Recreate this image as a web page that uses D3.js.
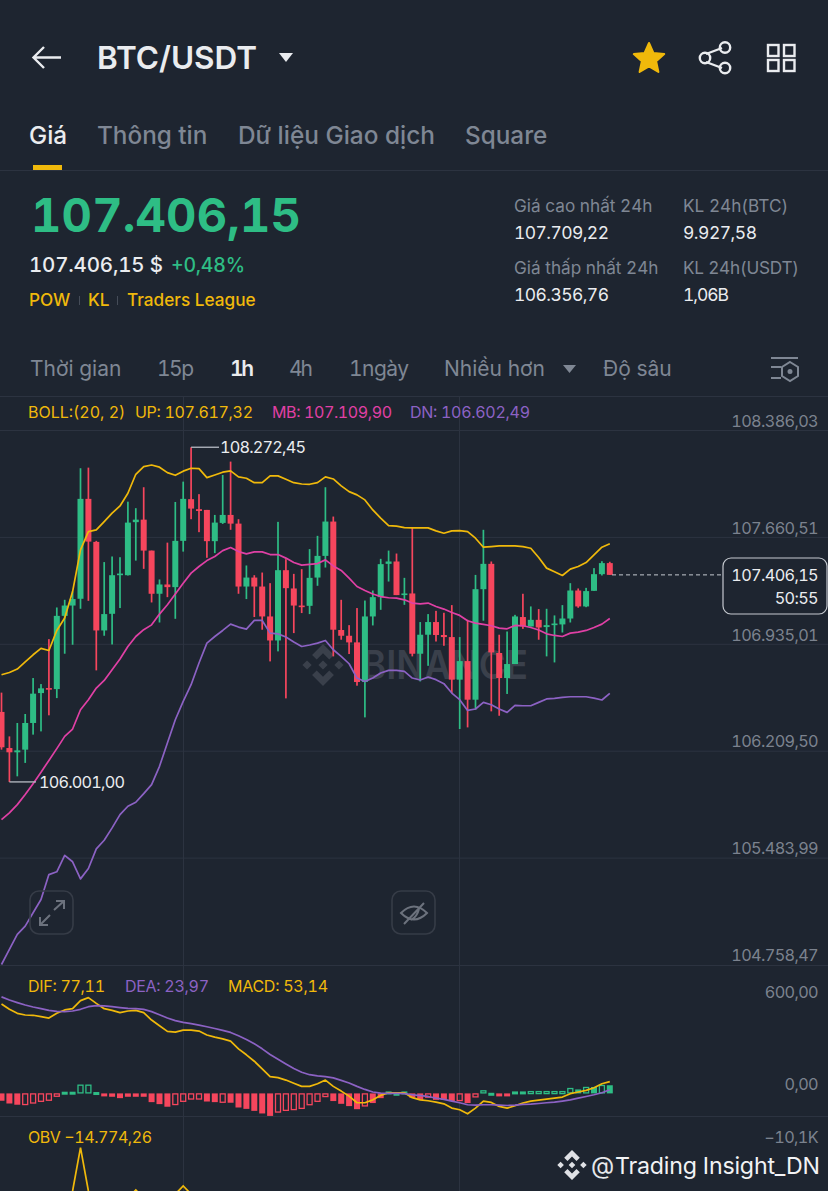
<!DOCTYPE html>
<html>
<head>
<meta charset="utf-8">
<script src="https://cdnjs.cloudflare.com/ajax/libs/d3/7.8.5/d3.min.js"></script>
<style>
html, body { margin: 0; padding: 0; background: #1e2530; }
svg { display: block; font-family: Inter, Roboto, sans-serif; font-variant-numeric: tabular-nums; }
</style>
</head>
<body>
<script>
// candles, one entry per hour, oldest first
var opens = [106476,106231,106202,106220,106401,106604,106638,106631,107128,107198,107244,107922,107630,107029,107142,107404,107404,107764,107781,107571,107278,107341,107323,107637,107920,107852,107847,107635,107759,107813,107754,107327,107388,107327,107124,106961,107438,107314,107198,107196,107388,107535,107768,107032,106993,106948,106679,107124,107255,107481,107497,107269,107280,106871,107000,107086,106998,106984,106695,106821,106559,107309,107481,106876,106706,106801,107120,107056,107101,107052,107065,107070,107110,107300,107192,107298,107411,107486];
var closes = [106236,106202,106215,106401,106600,106636,106627,107128,107198,107242,107922,107632,107029,107140,107404,107415,107761,107781,107571,107278,107341,107323,107637,107922,107856,107840,107635,107761,107813,107754,107327,107388,107327,107124,106961,107438,107316,107198,107187,107386,107535,107768,107034,106993,106948,106679,107124,107255,107479,107497,107269,107280,106871,107000,107086,106998,106984,106695,106821,106559,107309,107481,106880,106706,106801,107124,107056,107101,107049,107065,107076,107110,107300,107192,107296,107411,107486,107406.15];
var highs = [106607,106310,106401,106462,106706,106665,106970,107185,107237,107293,108130,108134,107637,107493,107531,107526,107903,107859,108001,107571,107375,107625,107901,108039,108272.45,107954,107847,107813,108084,108175,107784,107470,107404,107422,107350,107766,107513,107413,107445,107581,107671,108001,107802,107237,107065,107181,107232,107300,107515,107571,107551,107386,107727,107086,107140,107162,107149,107201,106984,107101,107406,107712,107497,107000,107022,107135,107278,107192,107174,107176,107131,107201,107350,107314,107318,107452,107499,107495];
var lows = [106220,106001,106039,106130,106322,106344,106453,106570,106871,106932,107176,107230,106758,106993,106934,107181,107402,107503,107447,107219,107083,107255,107108,107564,107784,107696,107522,107554,107752,107712,107278,107242,107120,107034,106819,106887,106568,107011,107147,107140,107332,107456,106853,106966,106869,106654,106439,107063,107169,107361,107269,107203,106853,106683,106789,106954,106925,106604,106360,106371,106491,107095,106480,106450,106598,106801,107040,107056,106966,106853,106812,107015,107083,107183,107187,107298,107402,107406];

// bollinger bands
var bollUp = [106728,106744,106767,106815,106864,106907,106893,107029,107113,107293,107576,107700,107712,107768,107825,107874,107960,108089,108141,108152,108137,108100,108082,108110,108130,108127,108066,108084,108103,108112,108071,108062,108032,108032,108078,108078,108055,108032,108023,108021,108032,108071,108057,108010,107971,107949,107915,107847,107791,107741,107737,107727,107725,107725,107725,107705,107689,107705,107707,107700,107655,107594,107598,107603,107603,107603,107598,107587,107524,107452,107427,107402,107445,107463,107490,107542,107594,107617.32];
var bollMid = [105745,105791,105847,105915,105989,106066,106147,106227,106310,106360,106491,106559,106638,106690,106762,106835,106920,106988,107034,107067,107140,107203,107276,107350,107418,107463,107503,107531,107571,107592,107564,107549,107562,107562,107544,107544,107520,107490,107472,107478,107483,107508,107467,107436,107384,107327,107300,107276,107259,107251,107248,107237,107215,107210,107215,107192,107174,107151,107131,107095,107079,107070,107061,107045,107040,107063,107061,107049,107032,107006,106995,106988,107011,107018,107029,107049,107072,107109.9];
var bollDn = [104762,104864,104966,105022,105113,105203,105372,105391,105503,105459,105343,105413,105547,105605,105689,105779,105836,105863,105922,105983,106107,106265,106423,106548,106661,106808,106943,106988,107029,107072,107052,107038,107097,107097,107011,107006,106984,106950,106920,106930,106943,106961,106898,106853,106803,106706,106683,106706,106740,106758,106758,106751,106706,106693,106713,106695,106668,106604,106559,106486,106496,106541,106525,106496,106473,106520,106518,106518,106541,106564,106568,106575,106579,106579,106579,106570,106557,106602.49];

// macd pane
var dif = [584,549,523,512,510,501,492,523,545,553,606,625,588,553,542,527,538,542,527,479,442,405,400,413,413,407,381,367,356,341,291,252,210,160,109,103,87,66,46,46,63,87,46,15,-18,-61,-61,-42,-13,4,4,4,-28,-42,-48,-57,-68,-96,-107,-133,-96,-50,-59,-85,-96,-81,-63,-50,-44,-37,-31,-24,-2,9,20,37,63,77.11];
var dea = [630,610,593,577,564,553,542,536,534,538,549,566,573,571,566,560,555,553,549,534,514,492,475,464,455,446,435,424,411,398,376,352,324,291,254,223,192,162,138,122,114,109,101,85,68,46,26,9,2,0,0,-2,-9,-15,-20,-31,-39,-50,-61,-74,-77,-74,-74,-77,-79,-77,-72,-70,-66,-61,-57,-50,-42,-31,-20,-9,4,23.97];
var hist = [-48,-66,-74,-76,-66,-55,-48,-22,11,11,57,57,9,-18,-22,-31,-22,-22,-22,-57,-70,-87,-76,-55,-40,-40,-53,-57,-61,-61,-92,-101,-114,-131,-147,-125,-114,-109,-101,-77,-55,-24,-50,-68,-83,-103,-85,-63,-31,13,4,13,-28,-42,-28,-42,-42,-50,-50,-63,-26,20,4,-9,-15,13,13,15,15,15,15,15,35,26,42,42,55,53.14];
var histHollow = [3,4,5,6,7,10,11,22,23,24,25,28,35,36,37,38,39,40,41,46,54,58,60,61,67,68,69,70,71,72,74,76];

// obv, only the part that reaches into the picture
var obvIndex = [8,9,10,11,12,16,17,18,22,23,24];
var obvValues = [-10900,-10615,-10114,-10615,-10900,-10700,-10602,-10700,-10650,-10557,-10650];

var priceTicks = [108386.03,107660.51,106935.01,106209.50,105483.99,104758.47];
var macdTicks = [600,0];
var obvTicks = [-10100,-10800];

var bg = "#1e2530", grid = "#2c3340", greyText = "#7f8794", axisText = "#7b828e", white = "#eaecef";
var green = "#2ebd85", red = "#f6465d", yellow = "#f0b90b", pink = "#e040a5", purple = "#8c62c4";

var width = 828, height = 1191;
var locale = d3.formatLocale({decimal: ",", thousands: ".", grouping: [3], currency: ["", ""]});
var fmt = locale.format(",.2f");

var svg = d3.select("body").append("svg")
    .attr("width", width)
    .attr("height", height);

svg.append("rect").attr("width", width).attr("height", height).attr("fill", bg);

var x = d3.scaleLinear().domain([0, 77]).range([1.5, 609.8]);
var y = d3.scaleLinear().domain([104758.47, 108386.03]).range([965, 430.5]);
var yMacd = d3.scaleLinear().domain([0, 600]).range([1093.4, 1001.5]);
var yObv = d3.scaleLinear().domain([-10800, -10100]).range([1207, 1146.5]);

function label(s, px, py, size, color, weight, anchor) {
  return svg.append("text")
      .attr("x", px).attr("y", py)
      .attr("dy", ".35em")
      .attr("font-size", size)
      .attr("font-weight", weight || 400)
      .attr("text-anchor", anchor || "start")
      .attr("fill", color)
      .text(s);
}

//header
svg.append("path").attr("d", "M61 57.5H34M44 47L33.5 57.5L44 68")
    .attr("fill", "none").attr("stroke", white).attr("stroke-width", 2.4);
label("BTC/USDT", 97, 58, 31.5, white, 600);
svg.append("path").attr("d", "M279 53H293L286 62Z").attr("fill", white);

svg.append("path")
    .attr("d", d3.range(10).map(function(i) {
      var r = i % 2 ? 7.5 : 16, a = -Math.PI / 2 + i * Math.PI / 5;
      return (i ? "L" : "M") + (649 + r * Math.cos(a)) + " " + (59 + r * Math.sin(a));
    }).join("") + "Z")
    .attr("fill", yellow).attr("stroke", yellow).attr("stroke-width", 2).attr("stroke-linejoin", "round");

var share = svg.append("g").attr("fill", "none").attr("stroke", white).attr("stroke-width", 2.4);
share.append("path").attr("d", "M706 54L722 48M706 62L722 68");
[[705, 58], [725, 47.5], [725, 68]].forEach(function(c) {
  share.append("circle").attr("cx", c[0]).attr("cy", c[1]).attr("r", 5.2);
});
[[768, 45], [784, 45], [768, 60], [784, 60]].forEach(function(c) {
  svg.append("rect").attr("x", c[0]).attr("y", c[1]).attr("width", 10.5).attr("height", 11)
      .attr("fill", "none").attr("stroke", white).attr("stroke-width", 2.4);
});

//tabs
label("Giá", 29, 135, 24.3, white, 500);
label("Thông tin", 97, 135, 24.3, greyText, 500);
label("Dữ liệu Giao dịch", 238, 135, 24.4, greyText, 500);
label("Square", 465, 135, 24.3, greyText, 500);
svg.append("rect").attr("x", 33).attr("y", 165).attr("width", 29).attr("height", 5).attr("fill", yellow);
svg.append("rect").attr("x", 0).attr("y", 170).attr("width", width).attr("height", 1).attr("fill", grid);

//price block
label("107.406,15", 31, 216, 47, green, 700).attr("textLength", 270);
label("107.406,15 $", 29, 265, 20.5, white, 500).attr("textLength", 134);
label("+0,48%", 171, 265, 19.5, green, 500).attr("textLength", 74);
label("POW", 29, 300, 17.2, yellow, 500);
label("KL", 88, 300, 17.2, yellow, 500);
label("Traders League", 127, 300, 17.2, yellow, 500);
[79, 117].forEach(function(sx) {
  svg.append("rect").attr("x", sx).attr("y", 296).attr("width", 1).attr("height", 9).attr("fill", "#454c58");
});

label("Giá cao nhất 24h", 514, 206, 17.2, greyText);
label("107.709,22", 514, 232.5, 17.5, white).attr("textLength", 95);
label("KL 24h(BTC)", 683, 206, 17.2, greyText);
label("9.927,58", 683, 232.5, 17.5, white).attr("textLength", 74);
label("Giá thấp nhất 24h", 514, 268, 17.2, greyText);
label("106.356,76", 514, 294.5, 17.5, white).attr("textLength", 95);
label("KL 24h(USDT)", 683, 268, 17.2, greyText).attr("textLength", 116);
label("1,06B", 683, 294.5, 17.5, white).attr("textLength", 46);

//interval row
label("Thời gian", 30, 369, 21, greyText);
label("15p", 157, 369, 21, greyText).attr("textLength", 37);
label("1h", 230, 369, 21, white, 600).attr("textLength", 24);
label("4h", 289, 369, 21, greyText).attr("textLength", 24);
label("1ngày", 349, 369, 21, greyText).attr("textLength", 60);
label("Nhiều hơn", 444, 369, 21, greyText);
svg.append("path").attr("d", "M563 365H576L569.5 373Z").attr("fill", greyText);
label("Độ sâu", 603, 369, 21, greyText);
var settings = svg.append("g").attr("fill", "none").attr("stroke", greyText).attr("stroke-width", 2);
settings.append("path").attr("d", "M771 358H798M771 367H781M771 378H781");
settings.append("path").attr("d", "M790 362L798 367V376L790 381L782 376V367Z");
settings.append("circle").attr("cx", 790).attr("cy", 371.5).attr("r", 1.5).attr("fill", greyText);

//grid
svg.append("g").selectAll("line")
    .data([396, 965, 1116])
  .enter().append("line")
    .attr("x1", 0).attr("x2", width)
    .attr("y1", function(d) { return d + 0.5; }).attr("y2", function(d) { return d + 0.5; })
    .attr("stroke", grid);
svg.append("g").selectAll("line")
    .data(priceTicks.slice(0, 5))
  .enter().append("line")
    .attr("x1", 0).attr("x2", width)
    .attr("y1", y).attr("y2", y)
    .attr("stroke", grid);
svg.append("g").selectAll("line")
    .data([183.5, 459.5])
  .enter().append("line")
    .attr("x1", function(d) { return d; }).attr("x2", function(d) { return d; })
    .attr("y1", 396).attr("y2", height)
    .attr("stroke", grid);

//binance watermark under the candles
function logo(cx, cy, s, color) {
  var g = svg.append("g").attr("transform", "translate(" + cx + "," + cy + ") scale(" + s + ")").attr("fill", color);
  g.append("path").attr("d", "M0 -1L.52 -.48L.3 -.26L0 -.56L-.3 -.26L-.52 -.48ZM0 1L.52 .48L.3 .26L0 .56L-.3 .26L-.52 .48Z");
  g.append("path").attr("d", "M0 -.22L.22 0L0 .22L-.22 0ZM-.76 -.22L-.54 0L-.76 .22L-.98 0ZM.76 -.22L.98 0L.76 .22L.54 0Z");
  return g;
}
logo(323, 665, 21, "#3a404b");
label("BINANCE", 362, 665, 40, "#3a404b", 600).attr("textLength", 166).attr("lengthAdjust", "spacingAndGlyphs");

//candles
var idx = d3.range(opens.length);
var candle = svg.append("g").selectAll("g")
    .data(idx)
  .enter().append("g")
    .attr("fill", function(i) { return closes[i] >= opens[i] ? green : red; });
candle.append("rect")
    .attr("x", function(i) { return x(i) - 0.85; })
    .attr("width", 1.7)
    .attr("y", function(i) { return y(highs[i]); })
    .attr("height", function(i) { return y(lows[i]) - y(highs[i]); });
candle.append("rect")
    .attr("x", function(i) { return x(i) - 3; })
    .attr("width", 6)
    .attr("y", function(i) { return y(Math.max(opens[i], closes[i])); })
    .attr("height", function(i) { return Math.max(1.6, Math.abs(y(opens[i]) - y(closes[i]))); });

function seriesLine(scale, values, color, width_) {
  var line = d3.line()
      .x(function(d, i) { return x(i); })
      .y(function(d) { return scale(d); });
  svg.append("path")
      .attr("d", line(values))
      .attr("fill", "none")
      .attr("stroke", color)
      .attr("stroke-width", width_ || 1.7)
      .attr("stroke-linejoin", "round");
}
seriesLine(y, bollUp, yellow);
seriesLine(y, bollMid, pink);
seriesLine(y, bollDn, purple);

label("BOLL:(20, 2)", 28, 412, 16, yellow);
label("UP: " + fmt(bollUp[77]), 135, 412, 16, yellow).attr("textLength", 118);
label("MB: " + fmt(bollMid[77]), 272, 412, 16, pink).attr("textLength", 120);
label("DN: " + fmt(bollDn[77]), 410, 412, 16, purple).attr("textLength", 120);

//axes, labels sit just above their grid line
function rightAxis(scale, ticks, format) {
  var g = svg.append("g")
      .attr("transform", "translate(818,-9.5)")
      .call(d3.axisLeft(scale).tickValues(ticks).tickSize(0).tickPadding(0).tickFormat(format));
  g.select(".domain").remove();
  g.selectAll("text")
      .attr("fill", axisText)
      .attr("font-size", 16.3)
      .attr("letter-spacing", -0.65)
      .attr("font-family", "Inter, Roboto, sans-serif");
  return g;
}
rightAxis(y, priceTicks, fmt);
rightAxis(yMacd, macdTicks, fmt);
rightAxis(yObv, obvTicks, function(d) { return "−" + locale.format(".1f")(-d / 1000) + "K"; });

//high, low markers
function marker(value, i, lx, tx, s) {
  svg.append("line")
      .attr("x1", x(i)).attr("x2", lx)
      .attr("y1", y(value)).attr("y2", y(value))
      .attr("stroke", "#b7bcc4").attr("stroke-width", 1.3);
  label(s, tx, y(value), 16.3, white).attr("textLength", 86);
}
marker(108272.45, 24, 219, 220, fmt(108272.45));
marker(106001, 1, 36, 39, fmt(106001));

//current price
var last = closes[closes.length - 1];
svg.append("line")
    .attr("x1", 612).attr("x2", 722)
    .attr("y1", y(last)).attr("y2", y(last))
    .attr("stroke", "#c5c9cf").attr("stroke-dasharray", "4 3");
svg.append("rect")
    .attr("x", 723).attr("y", 558).attr("width", 104).attr("height", 56).attr("rx", 8)
    .attr("fill", bg).attr("stroke", "#c5c9cf").attr("stroke-width", 1.2);
label(fmt(last), 818, 575, 16.3, white, 400, "end").attr("letter-spacing", -0.65);
label("50:55", 818, 598, 16.3, white, 400, "end").attr("letter-spacing", -0.65);

//chart buttons
[30, 392].forEach(function(bx) {
  svg.append("rect").attr("x", bx).attr("y", 891).attr("width", 43).attr("height", 43).attr("rx", 9)
      .attr("fill", "none").attr("stroke", "#363c47").attr("stroke-width", 1.6);
});
svg.append("path")
    .attr("d", "M54 910L64 901M56 901H64V909M50 915L40 925M40 917V925H48")
    .attr("fill", "none").attr("stroke", "#6c727d").attr("stroke-width", 2);
svg.append("path")
    .attr("d", "M401 913Q414 900 427 913Q414 926 401 913ZM404 924L424 903M411 920Q417 917 419 909")
    .attr("fill", "none").attr("stroke", "#6c727d").attr("stroke-width", 2);

//macd
svg.append("g").selectAll("rect")
    .data(idx)
  .enter().append("rect")
    .each(function(i) {
      var hollow = histHollow.indexOf(i) >= 0;
      var top = Math.min(yMacd(hist[i]), yMacd(0));
      var h = Math.max(3, Math.abs(yMacd(hist[i]) - yMacd(0)));
      var color = hist[i] >= 0 ? green : red;
      d3.select(this)
          .attr("x", x(i) - (hollow ? 2.5 : 3))
          .attr("width", hollow ? 5 : 6)
          .attr("y", top + (hollow ? 0.5 : 0))
          .attr("height", hollow ? Math.max(2, h - 1) : h)
          .attr("fill", hollow ? "none" : color)
          .attr("stroke", hollow ? color : "none")
          .attr("stroke-width", 1.3);
    });
seriesLine(yMacd, dif, yellow);
seriesLine(yMacd, dea, purple);

label("DIF: " + locale.format(".2f")(dif[77]), 28, 986, 16, yellow).attr("textLength", 77);
label("DEA: " + locale.format(".2f")(dea[77]), 125, 986, 16, purple).attr("textLength", 84);
label("MACD: " + locale.format(".2f")(hist[77]), 228, 986, 16, yellow).attr("textLength", 100);

//obv
label("OBV −14.774,26", 28, 1137, 16, yellow).attr("textLength", 124);
svg.append("path")
    .attr("d", d3.line()
      .x(function(d, i) { return x(obvIndex[i]); })
      .y(function(d) { return yObv(d); })(obvValues))
    .attr("fill", "none").attr("stroke", yellow).attr("stroke-width", 1.7);

//author watermark
logo(572, 1165, 15, "#dfe1e5");
label("@", 591, 1166, 24, "#e6e8eb");
label("Trading Insight_DN", 615, 1166, 23.2, "#f2f3f5").attr("textLength", 205);
</script>
</body>
</html>
